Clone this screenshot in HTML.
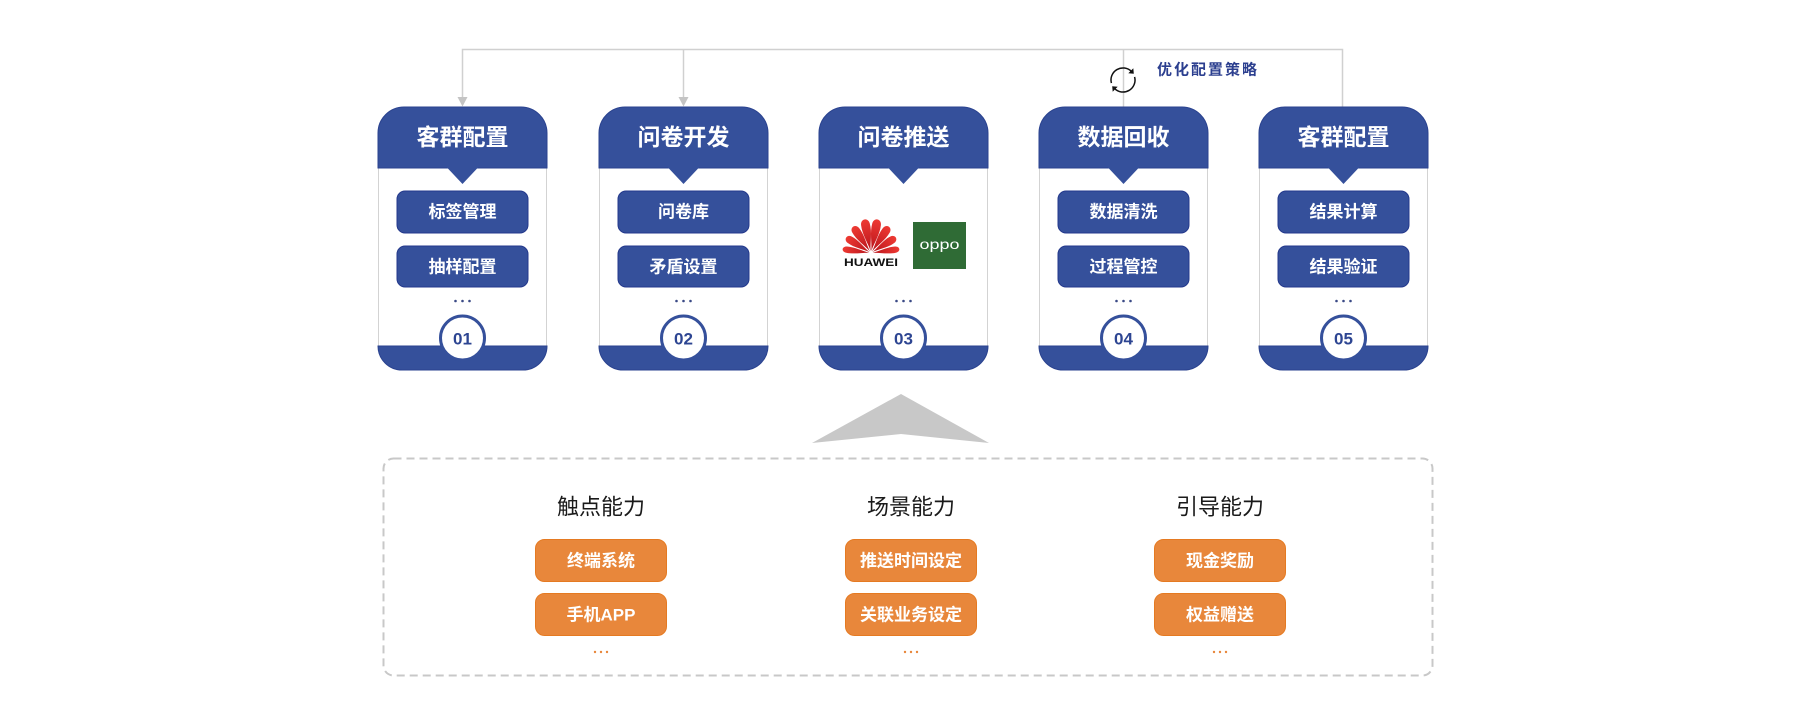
<!DOCTYPE html>
<html><head><meta charset="utf-8">
<style>
html,body{margin:0;padding:0;background:#fff;}
svg{display:block;}
text{font-family:"Liberation Sans","Noto Sans CJK SC",sans-serif;}
</style></head>
<body>
<svg width="1798" height="722" viewBox="0 0 1798 722" xmlns="http://www.w3.org/2000/svg">
<defs>
  <linearGradient id="hw" x1="0" y1="1" x2="0" y2="0">
    <stop offset="0" stop-color="#b8141c"/>
    <stop offset="1" stop-color="#ee3a33"/>
  </linearGradient>
  <g id="petal">
    <path d="M0,-2 C-1,-10 -5,-19 -4.2,-28 C-3.6,-34 3.6,-34 4.2,-28 C5,-19 1,-10 0,-2 Z"/>
  </g>
</defs>

<!-- connectors -->
<g stroke="#d0d0d0" stroke-width="1.5" fill="none">
  <path d="M462.5,98 V49.5 H1342.5 V108"/>
  <path d="M683.5,98 V49.5"/>
  <path d="M1123.5,49.5 V108"/>
</g>
<polygon points="457.5,97 467.5,97 462.5,106.5" fill="#c4c4c4"/>
<polygon points="678.5,97 688.5,97 683.5,106.5" fill="#c4c4c4"/>

<!-- loop icon -->
<g stroke="#111" stroke-width="1.5" fill="none">
  <path d="M1111.4,83.1 A12,12 0 0 1 1131.5,71.5"/>
  <path d="M1134.6,76.9 A12,12 0 0 1 1114.5,88.5"/>
</g>
<polygon points="1133.8,73.8 1128.3,73.3 1133.3,68.3" fill="#111"/>
<polygon points="1112.2,86.2 1117.7,86.7 1112.7,91.7" fill="#111"/>
<text x="1157" y="70" font-size="15" font-weight="bold" fill="#2c3f8f" letter-spacing="2" dominant-baseline="central">优化配置策略</text>

<!-- Card 1 -->
<g>
  <line x1="378.5" y1="168" x2="378.5" y2="346" stroke="#d3d3d3"/>
  <line x1="546.5" y1="168" x2="546.5" y2="346" stroke="#d3d3d3"/>
  <path d="M378,168 V133 A26,26 0 0 1 404,107 H521 A26,26 0 0 1 547,133 V168 Z" fill="#35509b" stroke="#2a428f" stroke-width="1"/>
  <path d="M446.5,167 L462.5,184 L478.5,167 Z" fill="#35509b"/>
  <path d="M378,346 H547 A24,24 0 0 1 523,370 H402 A24,24 0 0 1 378,346 Z" fill="#35509b" stroke="#2a428f" stroke-width="1"/>
  <text x="462.5" y="137" font-size="23" font-weight="bold" fill="#fff" text-anchor="middle" dominant-baseline="central">客群配置</text>
  <rect x="397" y="191" width="131" height="42" rx="8" fill="#35509b" stroke="#24398c"/>
  <rect x="397" y="246" width="131" height="41" rx="8" fill="#35509b" stroke="#24398c"/>
  <text x="462.5" y="212" font-size="17" font-weight="bold" fill="#fff" text-anchor="middle" dominant-baseline="central">标签管理</text>
  <text x="462.5" y="267" font-size="17" font-weight="bold" fill="#fff" text-anchor="middle" dominant-baseline="central">抽样配置</text>
  <g fill="#3b4a86"><circle cx="455.5" cy="301" r="1.3"/><circle cx="462.5" cy="301" r="1.3"/><circle cx="469.5" cy="301" r="1.3"/></g>
  <circle cx="462.5" cy="338" r="22" fill="#fff" stroke="#35509b" stroke-width="3"/>
  <text x="462.5" y="339" font-size="17" font-weight="bold" fill="#2d4592" text-anchor="middle" dominant-baseline="central">01</text>
</g>
<!-- Card 2 -->
<g>
  <line x1="599.5" y1="168" x2="599.5" y2="346" stroke="#d3d3d3"/>
  <line x1="767.5" y1="168" x2="767.5" y2="346" stroke="#d3d3d3"/>
  <path d="M599,168 V133 A26,26 0 0 1 625,107 H742 A26,26 0 0 1 768,133 V168 Z" fill="#35509b" stroke="#2a428f" stroke-width="1"/>
  <path d="M667.5,167 L683.5,184 L699.5,167 Z" fill="#35509b"/>
  <path d="M599,346 H768 A24,24 0 0 1 744,370 H623 A24,24 0 0 1 599,346 Z" fill="#35509b" stroke="#2a428f" stroke-width="1"/>
  <text x="683.5" y="137" font-size="23" font-weight="bold" fill="#fff" text-anchor="middle" dominant-baseline="central">问卷开发</text>
  <rect x="618" y="191" width="131" height="42" rx="8" fill="#35509b" stroke="#24398c"/>
  <rect x="618" y="246" width="131" height="41" rx="8" fill="#35509b" stroke="#24398c"/>
  <text x="683.5" y="212" font-size="17" font-weight="bold" fill="#fff" text-anchor="middle" dominant-baseline="central">问卷库</text>
  <text x="683.5" y="267" font-size="17" font-weight="bold" fill="#fff" text-anchor="middle" dominant-baseline="central">矛盾设置</text>
  <g fill="#3b4a86"><circle cx="676.5" cy="301" r="1.3"/><circle cx="683.5" cy="301" r="1.3"/><circle cx="690.5" cy="301" r="1.3"/></g>
  <circle cx="683.5" cy="338" r="22" fill="#fff" stroke="#35509b" stroke-width="3"/>
  <text x="683.5" y="339" font-size="17" font-weight="bold" fill="#2d4592" text-anchor="middle" dominant-baseline="central">02</text>
</g>
<!-- Card 3 -->
<g>
  <line x1="819.5" y1="168" x2="819.5" y2="346" stroke="#d3d3d3"/>
  <line x1="987.5" y1="168" x2="987.5" y2="346" stroke="#d3d3d3"/>
  <path d="M819,168 V133 A26,26 0 0 1 845,107 H962 A26,26 0 0 1 988,133 V168 Z" fill="#35509b" stroke="#2a428f" stroke-width="1"/>
  <path d="M887.5,167 L903.5,184 L919.5,167 Z" fill="#35509b"/>
  <path d="M819,346 H988 A24,24 0 0 1 964,370 H843 A24,24 0 0 1 819,346 Z" fill="#35509b" stroke="#2a428f" stroke-width="1"/>
  <text x="903.5" y="137" font-size="23" font-weight="bold" fill="#fff" text-anchor="middle" dominant-baseline="central">问卷推送</text>
  <g fill="url(#hw)" transform="translate(871,253)">
    <use href="#petal" transform="rotate(-11) scale(1.05)"/>
    <use href="#petal" transform="rotate(11) scale(1.05)"/>
    <use href="#petal" transform="rotate(-34) scale(0.98)"/>
    <use href="#petal" transform="rotate(34) scale(0.98)"/>
    <use href="#petal" transform="rotate(-58) scale(0.9)"/>
    <use href="#petal" transform="rotate(58) scale(0.9)"/>
    <use href="#petal" transform="rotate(-82) scale(0.75,0.88)"/>
    <use href="#petal" transform="rotate(82) scale(0.75,0.88)"/>
  </g>
  <text x="871" y="263" font-size="11" font-weight="bold" fill="#111" text-anchor="middle" dominant-baseline="central" textLength="54" lengthAdjust="spacingAndGlyphs">HUAWEI</text>
  <rect x="913" y="222" width="53" height="47" fill="#2f6b35"/>
  <text x="939.5" y="244" font-size="14" fill="#fff" text-anchor="middle" dominant-baseline="central" textLength="40" lengthAdjust="spacingAndGlyphs">oppo</text>
  <g fill="#3b4a86"><circle cx="896.5" cy="301" r="1.3"/><circle cx="903.5" cy="301" r="1.3"/><circle cx="910.5" cy="301" r="1.3"/></g>
  <circle cx="903.5" cy="338" r="22" fill="#fff" stroke="#35509b" stroke-width="3"/>
  <text x="903.5" y="339" font-size="17" font-weight="bold" fill="#2d4592" text-anchor="middle" dominant-baseline="central">03</text>
</g>
<!-- Card 4 -->
<g>
  <line x1="1039.5" y1="168" x2="1039.5" y2="346" stroke="#d3d3d3"/>
  <line x1="1207.5" y1="168" x2="1207.5" y2="346" stroke="#d3d3d3"/>
  <path d="M1039,168 V133 A26,26 0 0 1 1065,107 H1182 A26,26 0 0 1 1208,133 V168 Z" fill="#35509b" stroke="#2a428f" stroke-width="1"/>
  <path d="M1107.5,167 L1123.5,184 L1139.5,167 Z" fill="#35509b"/>
  <path d="M1039,346 H1208 A24,24 0 0 1 1184,370 H1063 A24,24 0 0 1 1039,346 Z" fill="#35509b" stroke="#2a428f" stroke-width="1"/>
  <text x="1123.5" y="137" font-size="23" font-weight="bold" fill="#fff" text-anchor="middle" dominant-baseline="central">数据回收</text>
  <rect x="1058" y="191" width="131" height="42" rx="8" fill="#35509b" stroke="#24398c"/>
  <rect x="1058" y="246" width="131" height="41" rx="8" fill="#35509b" stroke="#24398c"/>
  <text x="1123.5" y="212" font-size="17" font-weight="bold" fill="#fff" text-anchor="middle" dominant-baseline="central">数据清洗</text>
  <text x="1123.5" y="267" font-size="17" font-weight="bold" fill="#fff" text-anchor="middle" dominant-baseline="central">过程管控</text>
  <g fill="#3b4a86"><circle cx="1116.5" cy="301" r="1.3"/><circle cx="1123.5" cy="301" r="1.3"/><circle cx="1130.5" cy="301" r="1.3"/></g>
  <circle cx="1123.5" cy="338" r="22" fill="#fff" stroke="#35509b" stroke-width="3"/>
  <text x="1123.5" y="339" font-size="17" font-weight="bold" fill="#2d4592" text-anchor="middle" dominant-baseline="central">04</text>
</g>
<!-- Card 5 -->
<g>
  <line x1="1259.5" y1="168" x2="1259.5" y2="346" stroke="#d3d3d3"/>
  <line x1="1427.5" y1="168" x2="1427.5" y2="346" stroke="#d3d3d3"/>
  <path d="M1259,168 V133 A26,26 0 0 1 1285,107 H1402 A26,26 0 0 1 1428,133 V168 Z" fill="#35509b" stroke="#2a428f" stroke-width="1"/>
  <path d="M1327.5,167 L1343.5,184 L1359.5,167 Z" fill="#35509b"/>
  <path d="M1259,346 H1428 A24,24 0 0 1 1404,370 H1283 A24,24 0 0 1 1259,346 Z" fill="#35509b" stroke="#2a428f" stroke-width="1"/>
  <text x="1343.5" y="137" font-size="23" font-weight="bold" fill="#fff" text-anchor="middle" dominant-baseline="central">客群配置</text>
  <rect x="1278" y="191" width="131" height="42" rx="8" fill="#35509b" stroke="#24398c"/>
  <rect x="1278" y="246" width="131" height="41" rx="8" fill="#35509b" stroke="#24398c"/>
  <text x="1343.5" y="212" font-size="17" font-weight="bold" fill="#fff" text-anchor="middle" dominant-baseline="central">结果计算</text>
  <text x="1343.5" y="267" font-size="17" font-weight="bold" fill="#fff" text-anchor="middle" dominant-baseline="central">结果验证</text>
  <g fill="#3b4a86"><circle cx="1336.5" cy="301" r="1.3"/><circle cx="1343.5" cy="301" r="1.3"/><circle cx="1350.5" cy="301" r="1.3"/></g>
  <circle cx="1343.5" cy="338" r="22" fill="#fff" stroke="#35509b" stroke-width="3"/>
  <text x="1343.5" y="339" font-size="17" font-weight="bold" fill="#2d4592" text-anchor="middle" dominant-baseline="central">05</text>
</g>

<!-- gray arrow triangle -->
<polygon points="812,443 901,394 989,443 901,434" fill="#c8c8c8"/>

<!-- dashed box -->
<rect x="383.5" y="458.5" width="1049" height="217" rx="10" fill="none" stroke="#c8c8c8" stroke-width="2" stroke-dasharray="8 5"/>

<!-- columns -->
<g font-size="22" fill="#1a1a1a" text-anchor="middle">
  <text x="601" y="507" dominant-baseline="central">触点能力</text>
  <text x="911" y="507" dominant-baseline="central">场景能力</text>
  <text x="1220" y="507" dominant-baseline="central">引导能力</text>
</g>
<g fill="#e8873b" stroke="#e57a22" stroke-width="1">
  <rect x="535.5" y="539.5" width="131" height="42" rx="9"/>
  <rect x="535.5" y="593.5" width="131" height="42" rx="9"/>
  <rect x="845.5" y="539.5" width="131" height="42" rx="9"/>
  <rect x="845.5" y="593.5" width="131" height="42" rx="9"/>
  <rect x="1154.5" y="539.5" width="131" height="42" rx="9"/>
  <rect x="1154.5" y="593.5" width="131" height="42" rx="9"/>
</g>
<g font-size="17" font-weight="bold" fill="#fff" text-anchor="middle">
  <text x="601" y="561" dominant-baseline="central">终端系统</text>
  <text x="601" y="615" dominant-baseline="central">手机APP</text>
  <text x="911" y="561" dominant-baseline="central">推送时间设定</text>
  <text x="911" y="615" dominant-baseline="central">关联业务设定</text>
  <text x="1220" y="561" dominant-baseline="central">现金奖励</text>
  <text x="1220" y="615" dominant-baseline="central">权益赠送</text>
</g>
<g fill="#e8873b">
  <circle cx="595" cy="652" r="1.2"/><circle cx="601" cy="652" r="1.2"/><circle cx="607" cy="652" r="1.2"/>
  <circle cx="905" cy="652" r="1.2"/><circle cx="911" cy="652" r="1.2"/><circle cx="917" cy="652" r="1.2"/>
  <circle cx="1214" cy="652" r="1.2"/><circle cx="1220" cy="652" r="1.2"/><circle cx="1226" cy="652" r="1.2"/>
</g>
</svg>
</body></html>
